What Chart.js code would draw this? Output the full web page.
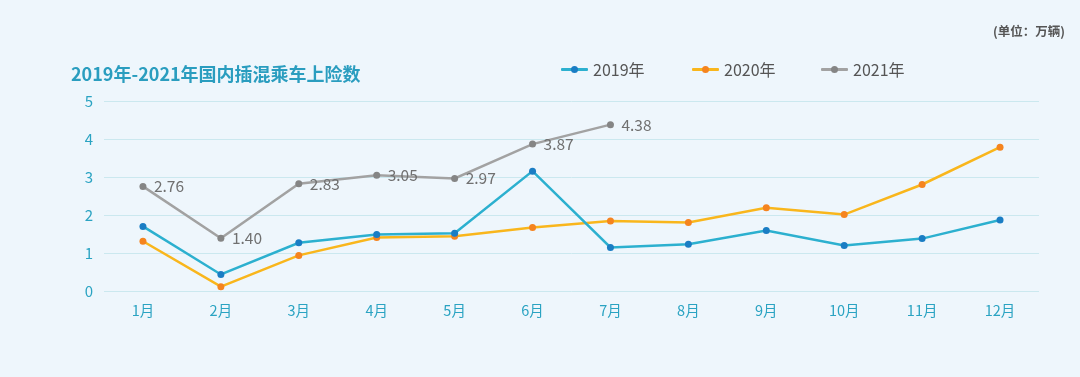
<!DOCTYPE html>
<html>
<head>
<meta charset="utf-8">
<script src="https://cdn.jsdelivr.net/npm/chart.js@4/dist/chart.umd.min.js"></script>
<style>
  html, body { margin: 0; padding: 0; background: #eef6fc; }
  #wrap { position: relative; width: 1080px; height: 377px; overflow: hidden; background: #eef6fc; }
  #chart { position: absolute; left: 0; top: 0; }
  #title { position: absolute; left: 71px; top: 61px; font: bold 18px "Noto Sans CJK SC", sans-serif; color: #2a9dbf; white-space: nowrap; line-height: 24px; }
  #unit { position: absolute; left: 993px; top: 22px; font: bold 12.5px "Noto Sans CJK SC", sans-serif; color: #555; white-space: nowrap; line-height: 18px; }
  #legend { position: absolute; top: 58px; left: 561px; height: 22px; }
  .item { position: absolute; top: 0; height: 22px; white-space: nowrap; }
  .item .ln { position: absolute; left: 0; top: 10px; width: 27px; height: 3px; border-radius: 1px; }
  .item .dt { position: absolute; left: 10px; top: 8px; width: 7px; height: 7px; border-radius: 50%; }
  .item .tx { position: absolute; left: 32px; top: 0; font: 16px "Noto Sans CJK SC", sans-serif; color: #555; line-height: 22px; }
</style>
</head>
<body>
<div id="wrap">
  <canvas id="chart" width="1080" height="377"></canvas>
  <div id="title"></div>
  <div id="unit"></div>
  <div id="legend"></div>
</div>
<script>
const titleText = '2019年-2021年国内插混乘车上险数';
const unitText = '(单位：万辆)';
const months = ['1月','2月','3月','4月','5月','6月','7月','8月','9月','10月','11月','12月'];
const seriesNames = ['2019年', '2020年', '2021年'];
const values2019 = [1.71, 0.45, 1.28, 1.50, 1.53, 3.16, 1.16, 1.24, 1.60, 1.21, 1.39, 1.88];
const values2020 = [1.32, 0.13, 0.95, 1.42, 1.45, 1.68, 1.85, 1.81, 2.20, 2.02, 2.81, 3.79];
const values2021 = [2.76, 1.40, 2.83, 3.05, 2.97, 3.87, 4.38];
const yTicks = [0, 1, 2, 3, 4, 5];

const lineColors = ['#2cb0cf', '#f9b61c', '#a2a2a2'];
const pointColors = ['#1a7dc4', '#f5841f', '#858585'];

document.getElementById('title').textContent = titleText;
document.getElementById('unit').textContent = unitText;

const legendX = [0, 131, 260];
const legendEl = document.getElementById('legend');
seriesNames.forEach((n, i) => {
  const it = document.createElement('div');
  it.className = 'item';
  it.style.left = legendX[i] + 'px';
  it.innerHTML = '<span class="ln" style="background:' + lineColors[i] + '"></span>' +
                 '<span class="dt" style="background:' + pointColors[i] + '"></span>' +
                 '<span class="tx"></span>';
  it.querySelector('.tx').textContent = n;
  legendEl.appendChild(it);
});

const labelPlugin = {
  id: 'labels2021',
  afterDatasetsDraw(chart) {
    const ctx = chart.ctx;
    const meta = chart.getDatasetMeta(2);
    ctx.save();
    ctx.font = '15.5px "Noto Sans CJK SC", sans-serif';
    ctx.fillStyle = '#707070';
    ctx.textAlign = 'left';
    ctx.textBaseline = 'middle';
    meta.data.forEach((pt, i) => {
      ctx.fillText(values2021[i].toFixed(2), pt.x + 11, pt.y);
    });
    ctx.restore();
  }
};

const mk = (i, data) => ({
  label: seriesNames[i],
  data: data,
  borderColor: lineColors[i],
  backgroundColor: pointColors[i],
  pointBackgroundColor: pointColors[i],
  pointBorderColor: pointColors[i],
  borderWidth: 2.5,
  pointRadius: 3.5,
  pointBorderWidth: 0,
  tension: 0,
  fill: false
});

new Chart(document.getElementById('chart'), {
  type: 'line',
  data: {
    labels: months,
    datasets: [mk(0, values2019), mk(1, values2020), mk(2, values2021)]
  },
  plugins: [labelPlugin],
  options: {
    responsive: false,
    animation: false,
    layout: { padding: { left: 0, right: 41, top: 101, bottom: 48 } },
    plugins: { legend: { display: false }, tooltip: { enabled: false } },
    scales: {
      x: {
        offset: true,
        grid: { display: false, drawTicks: false },
        border: { display: false },
        ticks: { color: '#2aa3c2', font: { size: 14.5, family: '"Noto Sans CJK SC", sans-serif' }, padding: 10, maxRotation: 0 }
      },
      y: {
        min: 0, max: 5,
        afterFit(scale) { scale.width = 104; },
        afterBuildTicks(scale) { scale.ticks = yTicks.map(v => ({ value: v })); },
        grid: { color: '#cbe8ef', lineWidth: 1, drawTicks: false },
        border: { display: false },
        ticks: { color: '#2aa3c2', font: { size: 15, family: '"Noto Sans CJK SC", sans-serif' }, padding: 11 }
      }
    }
  }
});
</script>
</body>
</html>
